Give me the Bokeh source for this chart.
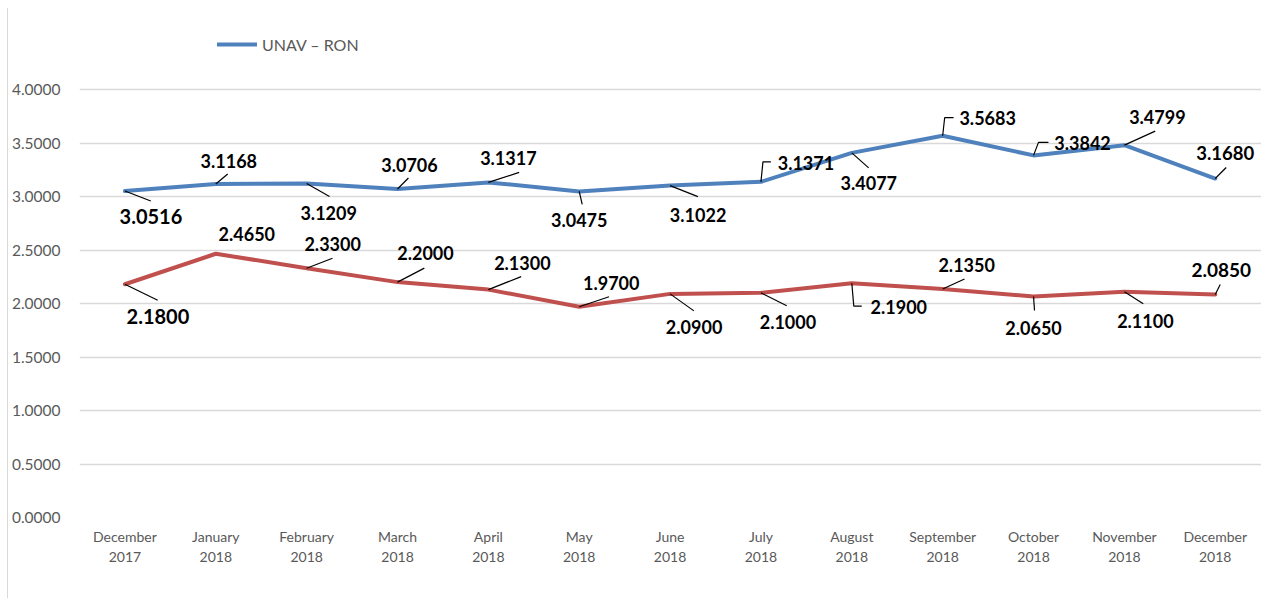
from bokeh.plotting import figure
from bokeh.models import (Range1d, FixedTicker, NumeralTickFormatter, LinearAxis,
                          ColumnDataSource, Legend, LegendItem)
from bokeh.embed import file_html
from bokeh.resources import INLINE

# ---------------- data ----------------
months = ["December", "January", "February", "March", "April", "May", "June",
          "July", "August", "September", "October", "November", "December"]
years = ["2017", "2018", "2018", "2018", "2018", "2018", "2018",
         "2018", "2018", "2018", "2018", "2018", "2018"]
unav_ron = [3.0516, 3.1168, 3.1209, 3.0706, 3.1317, 3.0475, 3.1022,
            3.1371, 3.4077, 3.5683, 3.3842, 3.4799, 3.1680]
second_series = [2.1800, 2.4650, 2.3300, 2.2000, 2.1300, 1.9700, 2.0900,
                 2.1000, 2.1900, 2.1350, 2.0650, 2.1100, 2.0850]
y_ticks = [0.0, 0.5, 1.0, 1.5, 2.0, 2.5, 3.0, 3.5, 4.0]
series_name = "UNAV \u2013 RON"

# ---------------- label styling (pixel offsets) ----------------
blue_lab = [(26, 26), (13, -23), (22, 29), (12, -24), (20, -24), (0, 29), (28, 29),
            (45, -19), (17, 30), (45, -18), (49, -12), (33, -28), (10, -26)]
blue_lead = [[(0, 0), (26, 10)], [(0, 0), (12, -10)], [(0, 0), (23, 13)],
             [(0, 0), (11, -11)], [(0, 0), (31, -10)], [(0, 0), (3, 13)],
             [(0, 0), (28, 11)], [(0, 0), (2, -20), (10, -20)], [(0, 0), (17, 15)],
             [(0, 0), (2, -18), (11, -18)], [(0, 0), (5, -13), (15, -13)],
             [(0, 0), (31, -14)], [(0, 0), (11, -11)]]
blue_size = ["20px"] + ["18px"] * 11 + ["18.5px"]

red_lab = [(33, 32), (31, -20), (26, -24), (28, -29), (34, -27), (32, -24), (24, 33),
           (27, 29), (47, 24), (24, -24), (0, 31), (21, 29), (6, -24)]
red_lead = [[(0, 0), (33, 16)], None, [(0, 0), (26, -10)], [(0, 0), (27, -14)],
            [(0, 0), (33, -13)], [(0, 0), (30, -10)], [(0, 0), (24, 17)],
            [(0, 0), (26, 13)], [(0, 0), (2, 23), (10, 23)], [(0, 0), (22, -10)],
            [(0, 0), (1, 14)], [(0, 0), (19, 12)], [(0, 0), (5, -10)]]
red_size = ["20px"] + ["18px"] * 11 + ["19px"]

BLUE = "#4F81BD"
RED = "#C0504D"
GRID = "#D9D9D9"
AXIS_TXT = "#595959"
FONT = "Lato"

W, H = 1254, 590
BL, BR, BT, BB = 63, 0, 12, 81
X0, X1 = -0.5, 12.52
Y0, Y1 = 0.0, 4.645
PXX = (W - BL - BR) / (X1 - X0)
PXY = (H - BT - BB) / (Y1 - Y0)

p = figure(width=W, height=H, output_backend="svg", toolbar_location=None,
           x_range=Range1d(X0, X1), y_range=Range1d(Y0, Y1),
           min_border_left=BL, min_border_right=BR, min_border_top=BT,
           min_border_bottom=BB)
p.outline_line_color = None
p.background_fill_color = "white"
p.border_fill_color = "white"
p.styles = {"margin-left": "7px", "margin-top": "8px",
            "border-left": "1.5px solid #D9D9D9"}

xs = list(range(len(months)))

# grid / axes
p.xgrid.grid_line_color = None
p.ygrid.ticker = FixedTicker(ticks=y_ticks)
p.ygrid.grid_line_color = GRID
p.ygrid.grid_line_width = 1.3

yax = p.yaxis[0]
yax.ticker = FixedTicker(ticks=y_ticks)
yax.formatter = NumeralTickFormatter(format="0.0000")
yax.axis_line_color = None
yax.major_tick_line_color = None
yax.minor_tick_line_color = None
yax.major_label_standoff = 13
yax.major_label_text_font = FONT
yax.major_label_text_font_size = "15.5px"
yax.major_label_text_color = AXIS_TXT

xax = p.xaxis[0]
xax.ticker = FixedTicker(ticks=xs)
xax.major_label_overrides = {i: m for i, m in enumerate(months)}
xax.axis_line_color = None
xax.major_tick_line_color = None
xax.minor_tick_line_color = None
xax.major_label_standoff = 4
xax.major_label_text_font = FONT
xax.major_label_text_font_size = "14px"
xax.major_label_text_color = AXIS_TXT

xax2 = LinearAxis(ticker=FixedTicker(ticks=xs),
                  major_label_overrides={i: y for i, y in enumerate(years)})
xax2.axis_line_color = None
xax2.major_tick_line_color = None
xax2.minor_tick_line_color = None
xax2.major_label_standoff = -2
xax2.major_label_text_font = FONT
xax2.major_label_text_font_size = "14px"
xax2.major_label_text_color = AXIS_TXT
p.add_layout(xax2, "below")

# lines
blue_r = p.line(xs, unav_ron, line_color=BLUE, line_width=4, line_join="round",
                line_cap="round")
red_r = p.line(xs, second_series, line_color=RED, line_width=4, line_join="round",
               line_cap="round")


def leaders(vals, leads):
    lx, ly = [], []
    for i, (v, pts) in enumerate(zip(vals, leads)):
        if pts is None:
            continue
        lx.append([i + dx / PXX for dx, dy in pts])
        ly.append([v - dy / PXY for dx, dy in pts])
    return lx, ly


for vals, labs, leads, sizes in ((unav_ron, blue_lab, blue_lead, blue_size),
                                 (second_series, red_lab, red_lead, red_size)):
    lx, ly = leaders(vals, leads)
    p.multi_line(lx, ly, line_color="black", line_width=1.2)
    src = ColumnDataSource(dict(
        x=xs, y=vals, t=["%.4f" % v for v in vals],
        xo=[a for a, b in labs], yo=[b for a, b in labs], fs=sizes))
    p.text(x="x", y="y", text="t", x_offset="xo", y_offset="yo",
           text_font_size="fs", source=src, text_font={"value": FONT},
           text_font_style="bold", text_color="black", text_align="center",
           text_baseline="middle")

legend = Legend(items=[LegendItem(label=series_name, renderers=[blue_r])],
                location=(138, 463))
legend.padding = 0
legend.margin = 0
legend.spacing = 0
legend.glyph_width = 40
legend.glyph_height = 20
legend.label_height = 20
legend.label_standoff = 5
legend.label_text_font = FONT
legend.label_text_font_size = "16px"
legend.label_text_color = AXIS_TXT
legend.border_line_alpha = 0
legend.background_fill_alpha = 0
p.add_layout(legend)

open("out.html", "w").write(file_html(p, INLINE))
